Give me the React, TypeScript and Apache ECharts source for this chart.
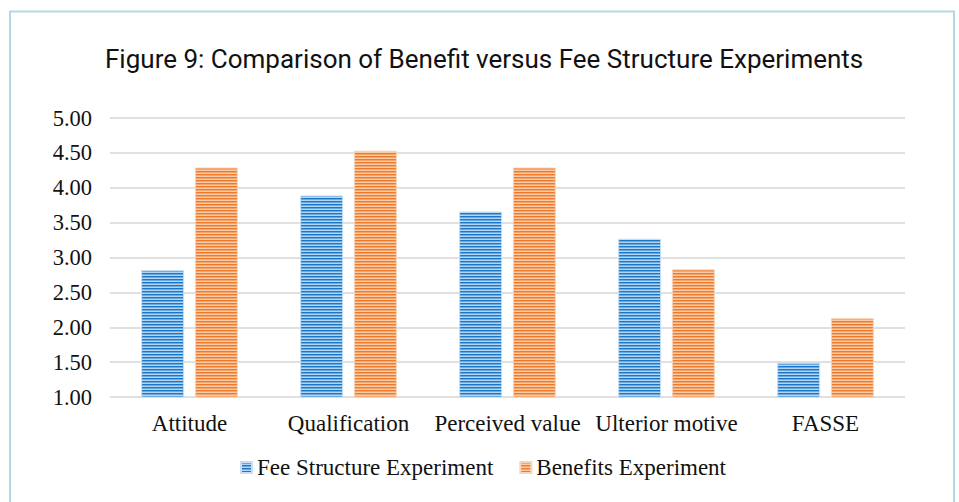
import React, { useEffect, useRef } from "react";
import * as echarts from "echarts";

const categories = ["Attitude", "Qualification", "Perceived value", "Ulterior motive", "FASSE"];
const feeStructure = [2.82, 3.89, 3.66, 3.27, 1.49];
const benefits = [4.29, 4.53, 4.29, 2.83, 2.13];
const seriesNames = ["Fee Structure Experiment", "Benefits Experiment"];
const titleText = "Figure 9: Comparison of Benefit versus Fee Structure Experiments";

function stripeCanvas(colors: string[]) {
  const c = document.createElement("canvas");
  c.width = 4;
  c.height = colors.length;
  const ctx = c.getContext("2d")!;
  colors.forEach((col, i) => {
    ctx.fillStyle = col;
    ctx.fillRect(0, i, 4, 1);
  });
  return c;
}

export default function App() {
  const ref = useRef<HTMLDivElement>(null);
  useEffect(() => {
    document.body.style.margin = "0";
    const chart = echarts.init(ref.current!, null, { renderer: "svg" });
    const blueColors = ["#1a78c8", "#6aaae2", "#b4d4f0"];
    const orangeColors = ["#ee7a2c", "#f4a56c", "#f9cba8"];
    const blue = {
      image: stripeCanvas(blueColors),
      repeat: "repeat",
      imageWidth: 4,
      imageHeight: blueColors.length,
    };
    const orange = {
      image: stripeCanvas(orangeColors),
      repeat: "repeat",
      imageWidth: 4,
      imageHeight: orangeColors.length,
    };
    const serif = "'Liberation Serif', 'Times New Roman', serif";
    chart.setOption({
      animation: false,
      backgroundColor: "#ffffff",
      title: {
        text: titleText,
        left: 105,
        top: 46,
        padding: 0,
        textStyle: {
          fontFamily: "Roboto, sans-serif",
          fontSize: 26,
          fontWeight: "normal",
          color: "#111111",
        },
      },
      graphic: [
        {
          type: "rect",
          shape: { x: 10, y: 11.5, width: 944, height: 500 },
          style: { fill: "none", stroke: "#b3d9e3", lineWidth: 2 },
          silent: true,
        },
      ],
      legend: {
        left: 240,
        top: 456,
        padding: 0,
        itemWidth: 11,
        itemHeight: 11,
        itemGap: 26,
        icon: "rect",
        textStyle: { fontFamily: serif, fontSize: 23, color: "#111111" },
        data: seriesNames,
      },
      grid: { left: 110, right: 54, top: 118, bottom: 105 },
      xAxis: {
        type: "category",
        data: categories,
        axisLine: { show: false },
        axisTick: { show: false },
        axisLabel: {
          fontFamily: serif,
          fontSize: 23,
          color: "#111111",
          margin: 15,
          interval: 0,
          hideOverlap: false,
        },
      },
      yAxis: {
        type: "value",
        min: 1,
        max: 5,
        interval: 0.5,
        axisLine: { show: false },
        axisTick: { show: false },
        axisLabel: {
          fontFamily: serif,
          fontSize: 22.5,
          color: "#111111",
          margin: 18,
          formatter: (v: number) => v.toFixed(2),
        },
        splitLine: { lineStyle: { color: "#d6d6d6", width: 1.5 } },
      },
      series: [
        {
          name: seriesNames[0],
          type: "bar",
          data: feeStructure,
          barWidth: 43,
          barGap: "25%",
          itemStyle: { color: blue, borderColor: "#c9def2", borderWidth: 1 },
        },
        {
          name: seriesNames[1],
          type: "bar",
          data: benefits,
          barWidth: 43,
          barGap: "25%",
          itemStyle: { color: orange, borderColor: "#f6d4bb", borderWidth: 1 },
        },
      ],
    });
    return () => chart.dispose();
  }, []);
  return (
    <div
      ref={ref}
      style={{ position: "absolute", left: 0, top: 0, width: 959, height: 502 }}
    />
  );
}
